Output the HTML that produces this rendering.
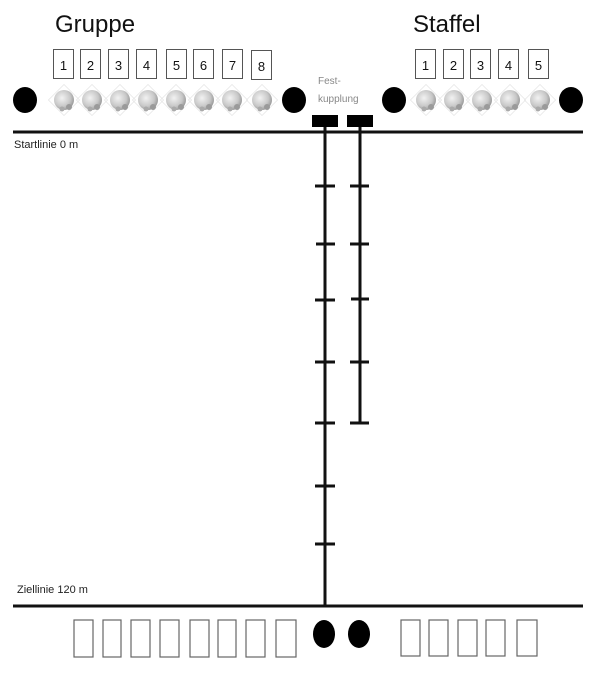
<!DOCTYPE html>
<html><head><meta charset="utf-8"><style>
body{margin:0;background:#fff;}
svg{display:block;}
text{font-family:"Liberation Sans",sans-serif;}
</style></head><body>
<svg width="605" height="691" viewBox="0 0 605 691" xmlns="http://www.w3.org/2000/svg">
<defs>
<radialGradient id="g" cx="0.4" cy="0.4" r="0.6">
<stop offset="0" stop-color="#f2f2f2"/><stop offset="0.7" stop-color="#c8c8c8"/><stop offset="1" stop-color="#a0a0a0"/>
</radialGradient>
<g id="ball">
<rect x="-11" y="-11" width="22" height="22" fill="none" stroke="#e4e4e4" stroke-width="0.7" transform="rotate(45)"/>
<circle cx="0" cy="0" r="10" fill="url(#g)"/>
<circle cx="5" cy="7" r="3" fill="#9a9a9a"/>
<circle cx="-2" cy="9" r="2.5" fill="#aaa"/>
</g>
</defs>
<text x="55" y="32" font-size="24" fill="#111">Gruppe</text>
<text x="413" y="32" font-size="24" fill="#111">Staffel</text>
<g fill="#fff" stroke="#555" stroke-width="1">
<rect x="53.5" y="49.5" width="20" height="29"/><rect x="80.5" y="49.5" width="20" height="29"/>
<rect x="108.5" y="49.5" width="20" height="29"/><rect x="136.5" y="49.5" width="20" height="29"/>
<rect x="166.5" y="49.5" width="20" height="29"/><rect x="193.5" y="49.5" width="20" height="29"/>
<rect x="222.5" y="49.5" width="20" height="29"/><rect x="251.5" y="50.5" width="20" height="29"/>
<rect x="415.5" y="49.5" width="20" height="29"/><rect x="443.5" y="49.5" width="20" height="29"/>
<rect x="470.5" y="49.5" width="20" height="29"/><rect x="498.5" y="49.5" width="20" height="29"/>
<rect x="528.5" y="49.5" width="20" height="29"/>
</g>
<g font-size="13" fill="#111" text-anchor="middle">
<text x="63.5" y="70">1</text><text x="90.5" y="70">2</text><text x="118.5" y="70">3</text><text x="146.5" y="70">4</text>
<text x="176.5" y="70">5</text><text x="203.5" y="70">6</text><text x="232.5" y="70">7</text><text x="261.5" y="71">8</text>
<text x="425.5" y="70">1</text><text x="453.5" y="70">2</text><text x="480.5" y="70">3</text><text x="508.5" y="70">4</text><text x="538.5" y="70">5</text>
</g>
<use href="#ball" x="64" y="100"/><use href="#ball" x="92" y="100"/><use href="#ball" x="120" y="100"/><use href="#ball" x="148" y="100"/>
<use href="#ball" x="176" y="100"/><use href="#ball" x="204" y="100"/><use href="#ball" x="232" y="100"/><use href="#ball" x="262" y="100"/>
<use href="#ball" x="426" y="100"/><use href="#ball" x="454" y="100"/><use href="#ball" x="482" y="100"/><use href="#ball" x="510" y="100"/><use href="#ball" x="540" y="100"/>
<g fill="#000">
<ellipse cx="25" cy="100" rx="12" ry="13"/><ellipse cx="294" cy="100" rx="12" ry="13"/>
<ellipse cx="394" cy="100" rx="12" ry="13"/><ellipse cx="571" cy="100" rx="12" ry="13"/>
<rect x="312" y="115" width="26" height="12"/><rect x="347" y="115" width="26" height="12"/>
</g>
<text x="318" y="84" font-size="10" fill="#888">Fest-</text>
<text x="318" y="102" font-size="10" fill="#888">kupplung</text>
<g stroke="#111" stroke-width="3">
<line x1="13" y1="132" x2="583" y2="132"/>
<line x1="13" y1="606" x2="583" y2="606"/>
<line x1="325" y1="127" x2="325" y2="606"/>
<line x1="360" y1="127" x2="360" y2="424"/>
<line x1="315" y1="186" x2="335" y2="186"/><line x1="350" y1="186" x2="369" y2="186"/>
<line x1="316" y1="244" x2="335" y2="244"/><line x1="350" y1="244" x2="369" y2="244"/>
<line x1="315" y1="300" x2="335" y2="300"/><line x1="351" y1="299" x2="369" y2="299"/>
<line x1="315" y1="362" x2="335" y2="362"/><line x1="350" y1="362" x2="369" y2="362"/>
<line x1="315" y1="423" x2="335" y2="423"/><line x1="350" y1="423" x2="369" y2="423"/>
<line x1="315" y1="486" x2="335" y2="486"/>
<line x1="315" y1="544" x2="335" y2="544"/>
</g>
<text x="14" y="148" font-size="11" fill="#222">Startlinie 0 m</text>
<text x="17" y="593" font-size="11" fill="#222">Ziellinie 120 m</text>
<g fill="#fff" stroke="#666" stroke-width="1.2">
<rect x="74" y="620" width="19" height="37"/><rect x="103" y="620" width="18" height="37"/>
<rect x="131" y="620" width="19" height="37"/><rect x="160" y="620" width="19" height="37"/>
<rect x="190" y="620" width="19" height="37"/><rect x="218" y="620" width="18" height="37"/>
<rect x="246" y="620" width="19" height="37"/><rect x="276" y="620" width="20" height="37"/>
<rect x="401" y="620" width="19" height="36"/><rect x="429" y="620" width="19" height="36"/>
<rect x="458" y="620" width="19" height="36"/><rect x="486" y="620" width="19" height="36"/>
<rect x="517" y="620" width="20" height="36"/>
</g>
<ellipse cx="324" cy="634" rx="11" ry="14" fill="#000"/>
<ellipse cx="359" cy="634" rx="11" ry="14" fill="#000"/>
</svg>
</body></html>
